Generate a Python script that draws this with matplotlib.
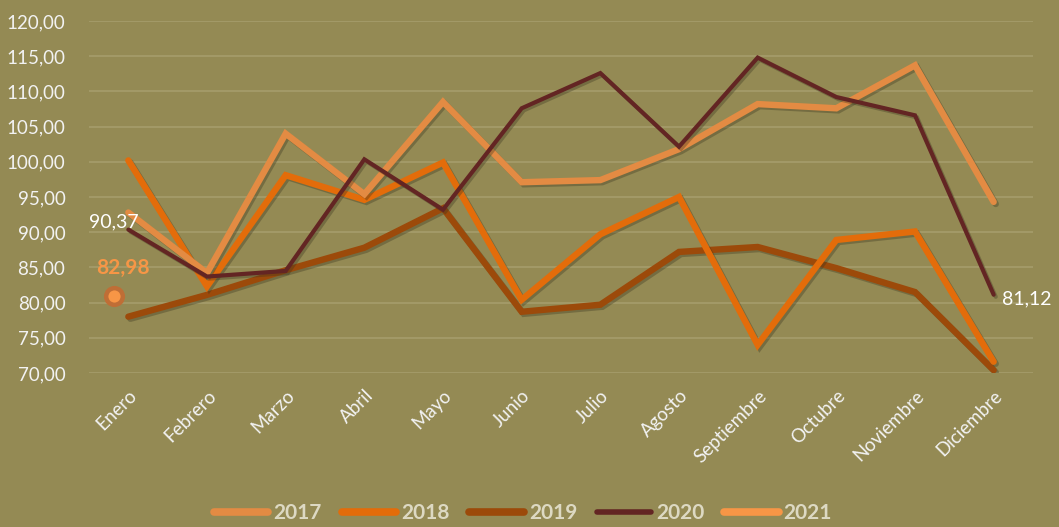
import matplotlib

matplotlib.use("Agg")
import matplotlib.pyplot as plt
import matplotlib.patheffects as pe
import numpy as np
from matplotlib.lines import Line2D
from matplotlib.ticker import FuncFormatter
from matplotlib.transforms import offset_copy

MONTHS = ["Enero", "Febrero", "Marzo", "Abril", "Mayo", "Junio", "Julio",
          "Agosto", "Septiembre", "Octubre", "Noviembre", "Diciembre"]

v2017 = [92.8, 84.2, 104.0, 95.4, 108.5, 97.1, 97.4, 101.8, 108.2, 107.6, 113.7, 94.3]
v2018 = [100.2, 82.3, 98.1, 94.6, 99.9, 80.4, 89.7, 95.0, 74.0, 88.9, 90.1, 71.6]
v2019 = [78.0, 81.1, 84.6, 87.8, 93.4, 78.7, 79.7, 87.2, 87.9, 84.9, 81.5, 70.4]
v2020 = [90.37, 83.7, 84.5, 100.35, 93.2, 107.6, 112.6, 102.15, 114.8, 109.2, 106.6, 81.12]
v2021 = [81.0]          # single point drawn as a marker beside Enero
label_2021 = "82,98"    # label shown above that marker

BG = "#948A54"
C17, C18, C19, C20, C21 = "#E38B43", "#E36C0A", "#9C4A0A", "#632523", "#F79646"
TXT = "#F2F2F2"

plt.rcParams["font.family"] = ["Lato", "DejaVu Sans"]


def comma(v, _pos=None):
    return f"{v:.2f}".replace(".", ",")


def main() -> None:
    fig = plt.figure(figsize=(10.59, 5.27), dpi=100, facecolor=BG)
    ax = fig.add_axes([89 / 1059, 1 - 373 / 527, (1033 - 89) / 1059, (373 - 21) / 527])
    ax.set_facecolor(BG)
    x = np.arange(len(MONTHS))

    shadow = [pe.SimpleLineShadow(offset=(1.5, -1.5), alpha=0.35, shadow_color="#3a3520"),
              pe.Normal()]
    for vals, col, lw in ((v2019, C19, 4.6), (v2018, C18, 4.6),
                          (v2017, C17, 4.6), (v2020, C20, 3.0)):
        ax.plot(x, vals, color=col, lw=lw, solid_capstyle="round",
                solid_joinstyle="miter", path_effects=shadow, zorder=3)

    # 2021 marker, nudged left of the Enero category
    tr = offset_copy(ax.transData, fig=fig, x=-14, y=0, units="dots")
    ax.plot(x[:1], v2021, "o", ms=12, mfc=C21, mec="#BF6E36", mew=3.2,
            transform=tr, zorder=4)
    ax.annotate(label_2021, (x[0], v2021[0]), xycoords=tr, xytext=(9, 28),
                textcoords="offset pixels", ha="center", va="center",
                color=C21, fontsize=15, fontweight="bold", zorder=5)

    ax.annotate(comma(v2020[0]), (x[0], v2020[0]), xytext=(-15, 8),
                textcoords="offset pixels", ha="center", va="center",
                color="white", fontsize=14, zorder=5)
    ax.annotate(comma(v2020[-1]), (x[-1], v2020[-1]), xytext=(8, -4),
                textcoords="offset pixels", ha="left", va="center",
                color="white", fontsize=14, zorder=5)

    ax.set_xlim(-0.5, len(MONTHS) - 0.5)
    ax.set_ylim(70, 120)
    ax.set_yticks(np.arange(70, 121, 5))
    ax.yaxis.set_major_formatter(FuncFormatter(comma))
    ax.grid(axis="y", color="#A59D6C", lw=1.2)
    ax.set_axisbelow(True)
    for s in ax.spines.values():
        s.set_visible(False)
    ax.tick_params(length=0, colors=TXT, labelsize=13.5)
    ax.tick_params(axis="y", pad=17)
    ax.set_xticks(x)
    ax.set_xticklabels(MONTHS, rotation=45, ha="right", rotation_mode="anchor")
    ax.tick_params(axis="x", pad=10)

    handles = [Line2D([], [], color=c, lw=w, solid_capstyle="round")
               for c, w in ((C17, 5.5), (C18, 5.5), (C19, 5.5), (C20, 4), (C21, 5.5))]
    fig.legend(handles, ["2017", "2018", "2019", "2020", "2021"], loc="lower center",
               bbox_to_anchor=(0.494, -0.028), ncol=5, frameon=False,
               handlelength=2.6, handletextpad=0.25, columnspacing=0.95,
               prop={"size": 15, "weight": "bold"}, labelcolor="#DDD9C3")

    fig.savefig("out.png", dpi=100, facecolor=BG)


if __name__ == "__main__":
    main()
